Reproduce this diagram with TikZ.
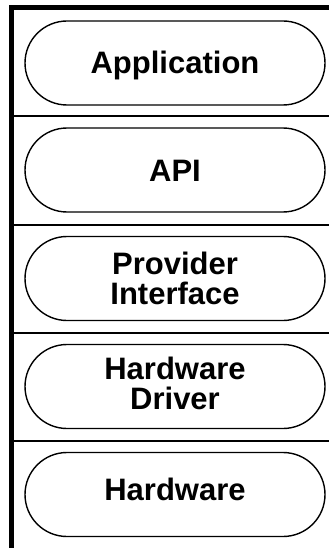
\documentclass[tikz,border=0pt]{standalone}
\usepackage{fontspec}
\setmainfont{Liberation Sans}
\begin{document}
\begin{tikzpicture}[x=1pt,y=-1pt,
  layer/.style={draw=black, line width=1.4pt, rounded corners=42pt,
    minimum width=300pt, minimum height=84pt, inner sep=0pt},
  lbl/.style={font=\fontsize{31}{30}\selectfont\bfseries, align=center,
    inner sep=0pt},
  onelbl/.style={lbl, text height=22pt, text depth=0pt},
  thick rule/.style={line width=4.5pt},
  sep rule/.style={line width=2pt}]
\useasboundingbox (0,0) rectangle (329,548);
% frame
\coordinate (tl) at (9,7.5);
\coordinate (tr) at (329,7.5);
\coordinate (lt) at (11.5,5.25);
\coordinate (lb) at (11.5,548);
\draw[thick rule] (tl) -- (tr);
\draw[thick rule] (lt) -- (lb);
% separators
\foreach \y/\n in {116.5/a,225/b,333/c,441/d}{
  \coordinate (s\n l) at (11.5,\y);
  \coordinate (s\n r) at (329,\y);
  \draw[sep rule] (s\n l) -- (s\n r);
}
% stadiums
\node[layer] (app) at (175,63) {};
\node[layer] (api) at (175,170) {};
\node[layer] (prov) at (175,278.5) {};
\node[layer] (drv) at (175,386.5) {};
\node[layer] (hw) at (175,494.5) {};
% labels
\node[onelbl] (tapp) at (app.center) {Application};
\node[onelbl] (tapi) at (api.center) {API};
\node[lbl] (tprov) at (prov.center) {Provider\\Interface};
\node[lbl] (tdrv) at ([yshift=3pt]drv.center) {Hardware\\Driver};
\node[onelbl] (thw) at ([yshift=5pt]hw.center) {Hardware};
\end{tikzpicture}
\end{document}
